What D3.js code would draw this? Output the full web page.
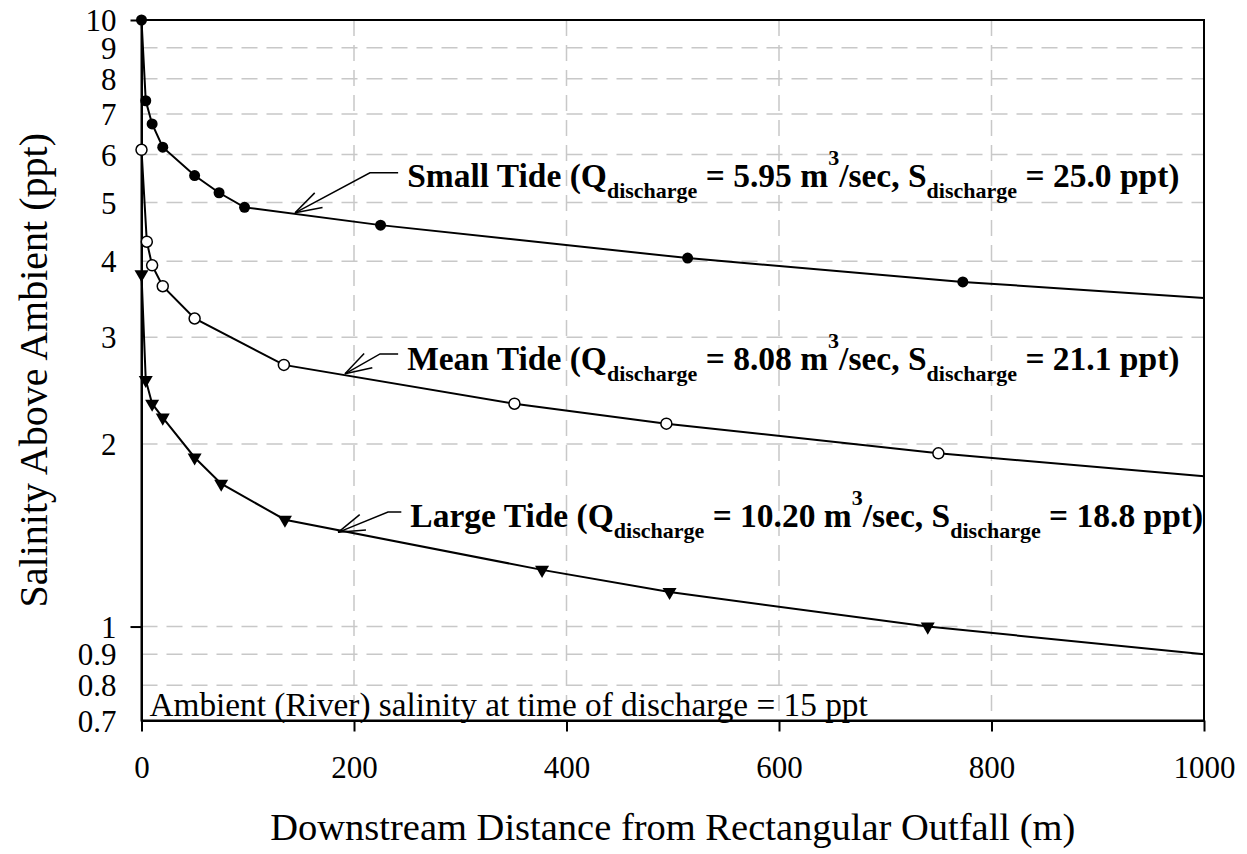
<!DOCTYPE html>
<html><head><meta charset="utf-8">
<script src="https://cdn.jsdelivr.net/npm/d3@7"></script>
<style>body{margin:0;background:#fff}</style>
</head><body>
<svg id="chart" width="1247" height="854"></svg>
<script>
// ---- data ----
const smallX = [0, 4, 10, 20, 50, 73, 97, 225, 514, 773, 1000];
const smallY = [10, 7.36, 6.74, 6.17, 5.54, 5.19, 4.91, 4.59, 4.05, 3.70, 3.48];
const meanX  = [0, 5, 10, 20, 50, 134, 351, 494, 750, 1000];
const meanY  = [6.11, 4.31, 3.94, 3.64, 3.22, 2.70, 2.33, 2.16, 1.93, 1.77];
const largeX = [0, 4, 10, 20, 50, 75, 135, 377, 497, 740, 1000];
const largeY = [3.81, 2.55, 2.33, 2.21, 1.90, 1.72, 1.50, 1.24, 1.14, 1.00, 0.90];
const xTicks = [0, 200, 400, 600, 800, 1000];
const yTicks = [0.7, 0.8, 0.9, 1, 2, 3, 4, 5, 6, 7, 8, 9, 10];
const yMajor = [1, 10];
const xGrid = [200, 400, 600, 800];
const yGrid = [0.8, 0.9, 1, 2, 3, 4, 5, 6, 7, 8, 9];
const seriesNames = ["Small Tide", "Mean Tide", "Large Tide"];
const qValues = ["5.95", "8.08", "10.20"];
const sValues = ["25.0", "21.1", "18.8"];
// annotation anchors in data units: arrow tip, elbow, text start/baseline
const tipX = [144.5, 191.5, 185];   const tipY = [4.81, 2.61, 1.43];
const elbowX = [215, 224.5, 232];   const elbowY = [5.60, 2.815, 1.545];
const textX = [250, 250, 253];      const textY = [5.31, 2.65, 1.46];
const ambientNote = "Ambient (River) salinity at time of discharge = 15 ppt";
const xTitle = "Downstream Distance from Rectangular Outfall (m)";
const yTitle = "Salinity Above Ambient (ppt)";

// ---- layout ----
const W = 1247, H = 854;
const L = 141.5, R = 1204, T = 20, B = 720.5;
const FONT = "'Liberation Serif','Times New Roman',Times,serif";
const svg = d3.select("#chart");
svg.append("rect").attr("width", W).attr("height", H).attr("fill", "#fff");

const x = d3.scaleLinear().domain([0, 1000]).range([L, R]);
const y = d3.scaleLog().domain([0.7, 10]).range([B, T]);

// grid
const grid = svg.append("g").attr("stroke", "#c8c8c8").attr("stroke-width", 1.5)
  .attr("stroke-dasharray", "16,9");
grid.selectAll("line.h").data(yGrid).join("line").attr("class", "h")
  .attr("x1", L).attr("x2", R).attr("y1", d => y(d)).attr("y2", d => y(d));
grid.selectAll("line.v").data(xGrid).join("line").attr("class", "v")
  .attr("y1", T).attr("y2", B).attr("x1", d => x(d)).attr("x2", d => x(d));

// frame (top & right)
svg.append("rect").attr("x", L).attr("y", T).attr("width", R - L).attr("height", B - T)
  .attr("fill", "none").attr("stroke", "#000").attr("stroke-width", 2);

// axes
const xAxis = svg.append("g").attr("transform", `translate(0,${B})`)
  .call(d3.axisBottom(x).tickValues(xTicks).tickFormat(d3.format("d"))
    .tickSize(11).tickSizeOuter(0).tickPadding(24));
const yAxisMarks = svg.append("g").attr("transform", `translate(${L},0)`)
  .call(d3.axisLeft(y).tickValues(yMajor).tickFormat("").tickSize(11).tickSizeOuter(0));
const yAxisLabels = svg.append("g").attr("transform", `translate(${L},0)`)
  .call(d3.axisLeft(y).tickValues(yTicks).tickFormat(d => String(d)).tickSize(0).tickPadding(25));
yAxisLabels.select(".domain").remove();
[xAxis, yAxisMarks].forEach(g => {
  g.select(".domain").attr("stroke", "#000").attr("stroke-width", 2);
  g.selectAll(".tick line").attr("stroke", "#000").attr("stroke-width", 2);
});
[xAxis, yAxisLabels].forEach(g => g.selectAll("text")
  .attr("font-family", FONT).attr("font-size", 31).attr("fill", "#000"));
yAxisLabels.selectAll("text").attr("dy", "0.34em");

// axis titles
svg.append("text").attr("x", (L + R) / 2).attr("y", 840).attr("text-anchor", "middle")
  .attr("font-family", FONT).attr("font-size", 38.5).text(xTitle);
svg.append("text").attr("transform", `translate(47,${(T + B) / 2}) rotate(-90)`)
  .attr("text-anchor", "middle").attr("font-family", FONT).attr("font-size", 40).text(yTitle);

// ambient note
svg.append("text").attr("x", L + 8).attr("y", 716).attr("font-family", FONT)
  .attr("font-size", 33.3).text(ambientNote);

// series
const mk = (xs, ys) => xs.map((v, i) => ({ x: v, y: ys[i] }));
const series = [mk(smallX, smallY), mk(meanX, meanY), mk(largeX, largeY)];
const line = d3.line().x(d => x(d.x)).y(d => y(d.y));
series.forEach(s => svg.append("path").datum(s).attr("d", line)
  .attr("fill", "none").attr("stroke", "#000").attr("stroke-width", 2));

const marked = s => s.filter(d => d.x < 1000);
svg.append("g").selectAll("circle").data(marked(series[0])).join("circle")
  .attr("cx", d => x(d.x)).attr("cy", d => y(d.y)).attr("r", 5.5).attr("fill", "#000");
svg.append("g").selectAll("circle").data(marked(series[1])).join("circle")
  .attr("cx", d => x(d.x)).attr("cy", d => y(d.y)).attr("r", 5.5)
  .attr("fill", "#fff").attr("stroke", "#000").attr("stroke-width", 1.5);
const tri = d3.symbol().type(d3.symbolTriangle).size(85);
svg.append("g").selectAll("path").data(marked(series[2])).join("path")
  .attr("d", tri).attr("fill", "#000")
  .attr("transform", d => `translate(${x(d.x)},${y(d.y)}) rotate(180)`);

// annotations
seriesNames.forEach((name, i) => {
  const tx = x(textX[i]), ty = y(textY[i]);
  const ex = x(elbowX[i]), ey = y(elbowY[i]);
  const px = x(tipX[i]), py = y(tipY[i]);
  const g = svg.append("g");
  g.append("polyline").attr("points", `${tx - 9},${ey} ${ex},${ey} ${px},${py}`)
    .attr("fill", "none").attr("stroke", "#000").attr("stroke-width", 1.5);
  const ang = Math.atan2(ey - py, ex - px);
  [-0.3, 0.3].forEach(da => {
    g.append("line").attr("x1", px).attr("y1", py)
      .attr("x2", px + 28 * Math.cos(ang + da)).attr("y2", py + 28 * Math.sin(ang + da))
      .attr("stroke", "#000").attr("stroke-width", 1.5);
  });
  const t = g.append("text").attr("x", tx).attr("y", ty).attr("font-family", FONT)
    .attr("font-size", 33.5).attr("font-weight", "bold");
  t.append("tspan").text(`${name} (Q`);
  t.append("tspan").attr("dy", 11).attr("font-size", 22).text("discharge");
  t.append("tspan").attr("dy", -11).text(` = ${qValues[i]} m`);
  t.append("tspan").attr("dy", -22).attr("font-size", 22).text("3");
  t.append("tspan").attr("dy", 22).text("/sec, S");
  t.append("tspan").attr("dy", 11).attr("font-size", 22).text("discharge");
  t.append("tspan").attr("dy", -11).text(` = ${sValues[i]} ppt)`);
});
</script>
</body></html>
